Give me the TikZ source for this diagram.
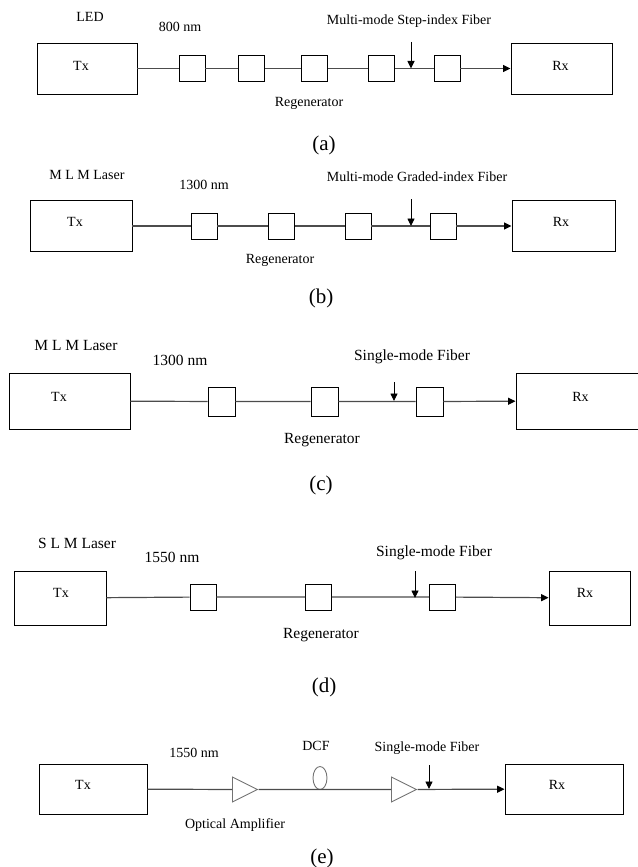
\documentclass[tikz,border=0pt]{standalone}
\usepackage{fontspec}
\setmainfont{Liberation Serif}
\usetikzlibrary{shapes.geometric, positioning, arrows.meta}

\begin{document}
\begin{tikzpicture}[x=1pt, y=-1pt, >={Triangle[length=7.5pt,width=7pt,color=black]}, line width=0.9pt,
  font=\fontsize{14}{16}\selectfont,
  box/.style={draw, rectangle, inner sep=0pt},
  regen/.style={draw, fill=white, minimum width=26pt, minimum height=26pt, inner sep=0pt},
  amp/.style={draw=black!55, isosceles triangle, isosceles triangle stretches,
    minimum width=25pt, minimum height=25pt, inner sep=0pt, anchor=lower side},
  fiber/.style={draw=black!70, line width=1.2pt},
  big/.style={font=\fontsize{15.5}{18}\selectfont},
  subcap/.style={font=\fontsize{21}{24}\selectfont, inner sep=0pt}]
\useasboundingbox (0,0) rectangle (637,867);

% (a)
\node[box, minimum width=100pt, minimum height=51pt, label={[xshift=-6pt,yshift=3pt]center:Tx}] (txa) at (87,68.5) {};
\node[box, minimum width=101pt, minimum height=51pt, label={[xshift=-1pt,yshift=3pt]center:Rx}] (rxa) at (561.5,68.5) {};
\node[regen] (ra1) at (192,68.5) {};
\node[regen] (ra2) at (251.5,68.5) {};
\node[regen] (ra3) at (314.5,68.5) {};
\node[regen] (ra4) at (381.5,68.5) {};
\node[regen] (ra5) at (447,68.5) {};
\draw[fiber] (txa) -- (ra1) -- (ra2) -- (ra3) -- (ra4) -- (ra5);
\draw[fiber, ->] (ra5) -- (rxa);
\coordinate (fa) at (411,42);
\coordinate (ta) at (411,68.5);
\draw[->] (fa) -- (ta);
\node (srca) at (90,17) {LED};
\node (wla) at (180,27) {800 nm};
\node (fiba) at (409,21) {Multi-mode Step-index Fiber};
\node (rga) at (309,103) {Regenerator};
\node[subcap] (capa) at (324,145) {(a)};

% (b)
\node[box, minimum width=102pt, minimum height=51pt, label={[xshift=-6pt,yshift=4pt]center:Tx}] (txb) at (81,226) {};
\node[box, minimum width=103pt, minimum height=51pt, label={[xshift=-2.5pt,yshift=4pt]center:Rx}] (rxb) at (563.5,226) {};
\node[regen] (rb1) at (204,226) {};
\node[regen] (rb2) at (281.5,226) {};
\node[regen] (rb3) at (358,226) {};
\node[regen] (rb4) at (443,226) {};
\draw[fiber] (txb) -- (rb1) -- (rb2) -- (rb3) -- (rb4);
\draw[fiber, ->] (rb4) -- (rxb);
\coordinate (fb) at (411,199);
\coordinate (tb) at (411,226);
\draw[->] (fb) -- (tb);
\node (srcb) at (87,175) {M L M Laser};
\node (wlb) at (204,185) {1300 nm};
\node (fibb) at (417,177) {Multi-mode Graded-index Fiber};
\node (rgb) at (280,260) {Regenerator};
\node[subcap] (capb) at (321,298) {(b)};

% (c)
\node[box, big, minimum width=121pt, minimum height=56pt, label={[xshift=-10.5pt,yshift=4pt]center:Tx}] (txc) at (69.5,401) {};
\node[box, big, minimum width=129pt, minimum height=56pt, label={[yshift=4pt]center:Rx}] (rxc) at (580.5,401) {};
\node[regen, minimum width=27pt, minimum height=29pt] (rc1) at (221.5,401.5) {};
\node[regen, minimum width=27pt, minimum height=29pt] (rc2) at (324.5,401.5) {};
\node[regen, minimum width=27pt, minimum height=29pt] (rc3) at (429.5,401.5) {};
\draw[fiber] (txc) -- (rc1) -- (rc2) -- (rc3);
\draw[fiber, ->] (rc3) -- (rxc);
\coordinate (fc) at (394,382);
\coordinate (tc) at (394,401);
\draw[->] (fc) -- (tc);
\node[big] (srcc) at (76,345) {M L M Laser};
\node[big] (wlc) at (180,360) {1300 nm};
\node[big] (fibc) at (412,357) {Single-mode Fiber};
\node[big] (rgc) at (322,440) {Regenerator};
\node[subcap] (capc) at (321,485) {(c)};

% (d)
\node[box, big, minimum width=92pt, minimum height=54pt, label={[xshift=1pt,yshift=5pt]center:Tx}] (txd) at (60,598) {};
\node[box, big, minimum width=81pt, minimum height=54pt, label={[xshift=-4.5pt,yshift=5pt]center:Rx}] (rxd) at (589.5,598) {};
\node[regen] (rd1) at (203,597) {};
\node[regen] (rd2) at (318.5,597) {};
\node[regen] (rd3) at (442.5,597) {};
\draw[fiber] (txd) -- (rd1) -- (rd2) -- (rd3);
\draw[fiber, ->] (rd3) -- (rxd);
\coordinate (fd) at (415,571);
\coordinate (td) at (415,598);
\draw[->] (fd) -- (td);
\node[big] (srcd) at (77,543) {S L M Laser};
\node[big] (wld) at (172,557) {1550 nm};
\node[big] (fibd) at (434,553) {Single-mode Fiber};
\node[big] (rgd) at (321,635) {Regenerator};
\node[subcap] (capd) at (324,687) {(d)};

% (e)
\node[box, minimum width=108pt, minimum height=50pt, label={[xshift=-10pt,yshift=4pt]center:Tx}] (txe) at (93,789) {};
\node[box, minimum width=118pt, minimum height=50pt, label={[xshift=-7pt,yshift=4pt]center:Rx}] (rxe) at (564,789) {};
\node[amp] (ampe1) at (232,789.5) {};
\node[amp] (ampe2) at (391,789.5) {};
\node[draw=black!55, ellipse, minimum width=14pt, minimum height=23pt, inner sep=0pt] (dcfe) at (320,778) {};
\draw[fiber] (txe) -- (ampe1) -- (ampe2);
\draw[fiber, ->] (ampe2) -- (rxe);
\coordinate (fe) at (429,765);
\coordinate (te) at (429,789);
\draw[->] (fe) -- (te);
\node (wle) at (194,753) {1550 nm};
\node (dcfl) at (316,746) {DCF};
\node (fibe) at (427,748) {Single-mode Fiber};
\node (ample) at (235,825) {Optical Amplifier};
\node[subcap] (cape) at (322,858) {(e)};
\end{tikzpicture}
\end{document}
